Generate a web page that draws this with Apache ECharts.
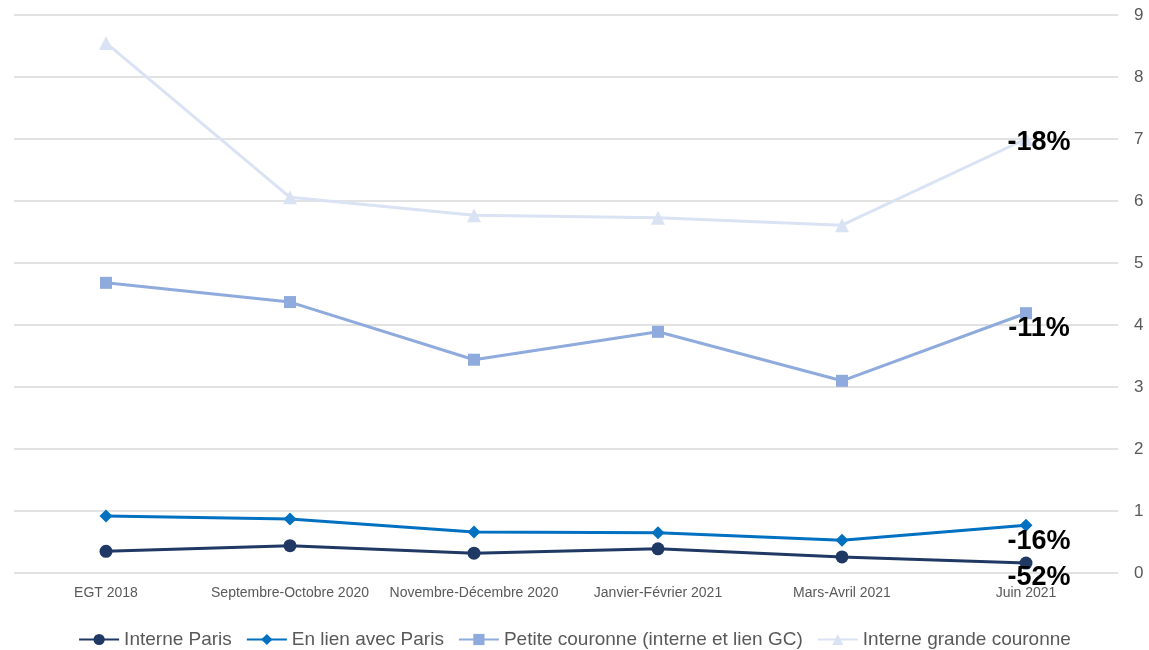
<!DOCTYPE html>
<html><head><meta charset="utf-8">
<script src="https://cdn.jsdelivr.net/npm/echarts@6/dist/echarts.min.js"></script>
<style>html,body{margin:0;padding:0;background:#fff}#c{width:1149px;height:650px}</style>
</head><body><div id="c"></div>
<script>
const categories = ['EGT 2018','Septembre-Octobre 2020','Novembre-Décembre 2020','Janvier-Février 2021','Mars-Avril 2021','Juin 2021'];
const interneParis = [0.35, 0.44, 0.32, 0.39, 0.26, 0.16];
const enLienParis = [0.92, 0.87, 0.66, 0.65, 0.53, 0.77];
const petiteCouronne = [4.68, 4.37, 3.44, 3.89, 3.10, 4.19];
const grandeCouronne = [8.55, 6.06, 5.77, 5.73, 5.61, 7.0];
const seriesNames = ['Interne Paris','En lien avec Paris','Petite couronne (interne et lien GC)','Interne grande couronne'];
const endLabels = ['-52%','-16%','-11%','-18%'];
const yTicks = [0,9,1];

const font = 'Liberation Sans, sans-serif';
function mk(name, data, color, symbol, size, endLabel, offset){
  return {
    name, type:'line', data: data.map((v,i)=> i===data.length-1 ? {value:v, label:{show:true, formatter:endLabel, position:'inside', offset:offset, color:'#000', fontSize:27, fontWeight:'bold', fontFamily:font}} : v),
    symbol, symbolSize:size, showAllSymbol:true,
    lineStyle:{color, width:3}, itemStyle:{color},
    label:{show:false}, z: 2
  };
}
const chart = echarts.init(document.getElementById('c'));
chart.setOption({
  animation:false,
  grid:{left:14, right:31, top:15, bottom:77},
  legend:{top:625, left:'center', itemWidth:40, itemHeight:14, itemGap:14,
    textStyle:{fontSize:19, color:'#595959', fontFamily:font},
    data:seriesNames},
  xAxis:{type:'category', data:categories, boundaryGap:true,
    axisLine:{show:false}, axisTick:{show:false},
    axisLabel:{color:'#595959', fontSize:14, fontFamily:font, margin:13, interval:0}},
  yAxis:{type:'value', position:'right', min:yTicks[0], max:yTicks[1], interval:yTicks[2],
    axisLine:{show:false}, axisTick:{show:false},
    axisLabel:{color:'#595959', fontSize:17, fontFamily:font, margin:16},
    splitLine:{lineStyle:{color:'#d9d9d9', width:1.5}}},
  series:[
    mk(seriesNames[0], interneParis, '#1f3864', 'circle', 13, endLabels[0], [13,14]),
    mk(seriesNames[1], enLienParis, '#0070c0', 'diamond', 13, endLabels[1], [13,16]),
    mk(seriesNames[2], petiteCouronne, '#8faadc', 'rect', 12, endLabels[2], [13,15]),
    mk(seriesNames[3], grandeCouronne, '#dae3f3', 'triangle', 14, endLabels[3], [13,4])
  ]
});
</script></body></html>
